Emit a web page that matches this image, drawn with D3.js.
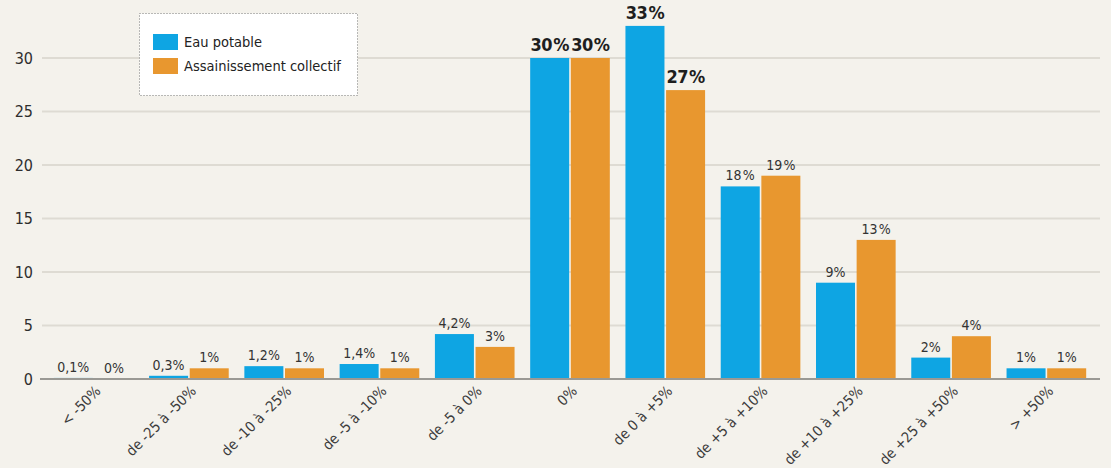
<!DOCTYPE html>
<html>
<head>
<meta charset="utf-8">
<script src="https://cdn.jsdelivr.net/npm/d3@7"></script>
<style>
  html, body { margin: 0; padding: 0; background: #f4f2ec; }
  svg { display: block; font-family: "Liberation Sans Narrow", "DejaVu Sans Condensed", sans-serif; }
</style>
</head>
<body>
<svg id="chart" width="1111" height="468"></svg>
<script>
// categories and values
var categories = ["< -50%", "de -25 à -50%", "de -10 à -25%", "de -5 à -10%", "de -5 à 0%", "0%",
                  "de 0 à +5%", "de +5 à +10%", "de +10 à +25%", "de +25 à +50%", "> +50%"];
var eauPotable = [0.1, 0.3, 1.2, 1.4, 4.2, 30, 33, 18, 9, 2, 1];
var assainissement = [0, 1, 1, 1, 3, 30, 27, 19, 13, 4, 1];
var seriesNames = ["Eau potable", "Assainissement collectif"];
var seriesColors = ["#0ea5e3", "#e8972f"];
var yTicks = [0, 5, 10, 15, 20, 25, 30];

var svg = d3.select("#chart");

var x = d3.scaleBand().domain(categories).range([46, 1094]).paddingInner(0.13).paddingOuter(0.065);
var xs = d3.scaleBand().domain([0, 1]).range([0, x.bandwidth()]).padding(0.04);
var y = d3.scaleLinear().domain([0, 30]).range([379, 58]);

//gridlines
svg.append("g").selectAll("line")
   .data(yTicks.filter(function(d){ return d > 0; }))
   .enter().append("line")
   .attr("x1", 42).attr("x2", 1100)
   .attr("y1", function(d){ return y(d); })
   .attr("y2", function(d){ return y(d); })
   .style("stroke", "#dedbd3")
   .style("stroke-width", 2);

//y tick labels
svg.append("g").selectAll("text")
   .data(yTicks)
   .enter().append("text")
   .attr("x", 33)
   .attr("y", function(d){ return y(d); })
   .attr("dy", "0.35em")
   .attr("text-anchor", "end")
   .style("font-size", "16px")
   .style("fill", "#2e2e2e")
   .text(function(d){ return d; });

//table of bars built from the two series
var rows = [];
categories.forEach(function(c, i){
  rows.push({cat: c, s: 0, v: eauPotable[i]});
  rows.push({cat: c, s: 1, v: assainissement[i]});
});

svg.append("g").selectAll("rect")
   .data(rows)
   .enter().append("rect")
   .attr("x", function(d){ return x(d.cat) + xs(d.s); })
   .attr("width", xs.bandwidth())
   .attr("y", function(d){ return y(d.v); })
   .attr("height", function(d){ return y(0) - y(d.v); })
   .style("fill", function(d){ return seriesColors[d.s]; });

//axis line
svg.append("line")
   .attr("x1", 40).attr("x2", 1100)
   .attr("y1", y(0)).attr("y2", y(0))
   .style("stroke", "#9a9994")
   .style("stroke-width", 2);

//value labels
function fmt(v){
  var s = String(v).replace(".", ",");
  return v >= 10 ? s + "\u200A%" : s + "%";
}
svg.append("g").selectAll("text")
   .data(rows)
   .enter().append("text")
   .attr("x", function(d){ return x(d.cat) + xs(d.s) + xs.bandwidth() / 2; })
   .attr("y", function(d){ return y(d.v) - (d.v >= 25 ? 7 : 6); })
   .attr("text-anchor", "middle")
   .style("font-size", function(d){ return d.v >= 25 ? "18px" : "14px"; })
   .style("font-weight", function(d){ return d.v >= 25 ? "bold" : "normal"; })
   .style("letter-spacing", function(d){ return d.v >= 25 ? "-0.5px" : "0px"; })
   .style("fill", function(d){ return d.v >= 25 ? "#1e1e1e" : "#333"; })
   .text(function(d){ return fmt(d.v); });

//rotated category labels
svg.append("g").selectAll("text")
   .data(categories)
   .enter().append("text")
   .attr("transform", function(d){
     return "translate(" + (x(d) + x.bandwidth() / 2 + 8) + "," + 392 + ") rotate(-45)";
   })
   .attr("text-anchor", "end")
   .style("font-size", "14.5px")
   .style("fill", "#3c3c3c")
   .text(function(d){ return d; });

//legend
var legend = svg.append("g");
legend.append("rect")
   .attr("x", 139.5).attr("y", 13.5)
   .attr("width", 218).attr("height", 82)
   .style("fill", "#ffffff")
   .style("stroke", "#777")
   .style("stroke-width", 1)
   .style("stroke-dasharray", "1,2");
seriesNames.forEach(function(name, i){
  legend.append("rect")
     .attr("x", 153).attr("y", 34 + i * 24)
     .attr("width", 25).attr("height", 16)
     .style("fill", seriesColors[i]);
  legend.append("text")
     .attr("x", 184).attr("y", 42 + i * 24)
     .attr("dy", "0.35em")
     .style("font-size", "14.5px")
     .style("fill", "#222")
     .text(name);
});
</script>
</body>
</html>
